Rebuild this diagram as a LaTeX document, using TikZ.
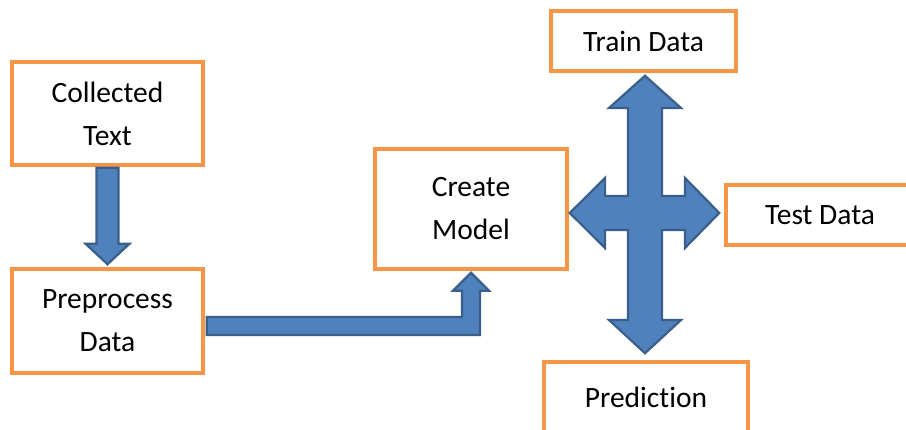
\documentclass[tikz,border=0pt]{standalone}
\usepackage{fontspec}
\setmainfont{Carlito}[RawFeature=-liga]
\usetikzlibrary{calc}
\definecolor{boxorange}{HTML}{F79646}
\definecolor{arrowfill}{HTML}{4F81BD}
\definecolor{arrowline}{HTML}{3A5F8B}
\tikzset{
  box/.style={draw=boxorange, line width=3.5pt, fill=white, inner sep=0pt,
    align=center, font=\fontsize{29.5pt}{43pt}\selectfont},
  blockarrow/.style={fill=arrowfill, draw=arrowline, line width=2.2pt, line join=miter}
}
\begin{document}
\begin{tikzpicture}[x=1pt,y=-1pt]
\useasboundingbox (0,0) rectangle (906,430);
\clip (0,0) rectangle (906,430);
\fill[white] (0,0) rectangle (906,430);
% boxes
\node[box, minimum width=191pt, minimum height=103pt] (ct) at (107.5,113.5) {Collected\\Text};
\node[box, minimum width=191pt, minimum height=104pt] (pp) at (107.5,321) {Preprocess\\Data};
\node[box, minimum width=192pt, minimum height=120pt] (cm) at (471,209) {Create\\Model};
\node[box, minimum width=185pt, minimum height=60pt] (tr) at (643.5,41) {Train Data};
\node[box, minimum width=188pt, minimum height=60pt] (te) at (820,215) {Test Data};
\node[box, minimum width=204pt, minimum height=70pt] (pr) at (646,397) {Prediction};
% down arrow
\draw[blockarrow] ($(ct.south)+(-11,1)$) -- ($(ct.south)+(-11,77)$) -- ($(ct.south)+(-22,77)$)
  -- ($(pp.north)+(0,-3)$) -- ($(ct.south)+(22,77)$) -- ($(ct.south)+(11,77)$)
  -- ($(ct.south)+(11,1)$) -- cycle;
% bent arrow
\coordinate (bend) at (cm.south |- pp.east);
\draw[blockarrow] ($(pp.east)+(2,-4)$) -- ($(bend)+(-9,-4)$) -- ($(cm.south)+(-9,20)$)
  -- ($(cm.south)+(-18,20)$) -- ($(cm.south)+(0,2)$) -- ($(cm.south)+(18,20)$)
  -- ($(cm.south)+(9,20)$) -- ($(bend)+(9,14)$) -- ($(pp.east)+(2,14)$) -- cycle;
% four-way arrow
\coordinate (q) at (645,213);
\draw[blockarrow] ($(tr.south)+(1.5,3)$) -- ($(q)+(36,-105)$) -- ($(q)+(17,-105)$) -- ($(q)+(17,-17)$)
  -- ($(q)+(40,-17)$) -- ($(q)+(40,-35)$) -- ($(te.west)+(-5,-2)$) -- ($(q)+(40,35)$)
  -- ($(q)+(40,17)$) -- ($(q)+(17,17)$) -- ($(q)+(17,107)$) -- ($(q)+(36,107)$)
  -- ($(pr.north)+(-1,-7)$) -- ($(q)+(-36,107)$) -- ($(q)+(-17,107)$) -- ($(q)+(-17,17)$)
  -- ($(q)+(-40,17)$) -- ($(q)+(-40,35)$) -- ($(cm.east)+(1,4)$) -- ($(q)+(-40,-35)$)
  -- ($(q)+(-40,-17)$) -- ($(q)+(-17,-17)$) -- ($(q)+(-17,-105)$) -- ($(q)+(-36,-105)$) -- cycle;
\end{tikzpicture}
\end{document}
